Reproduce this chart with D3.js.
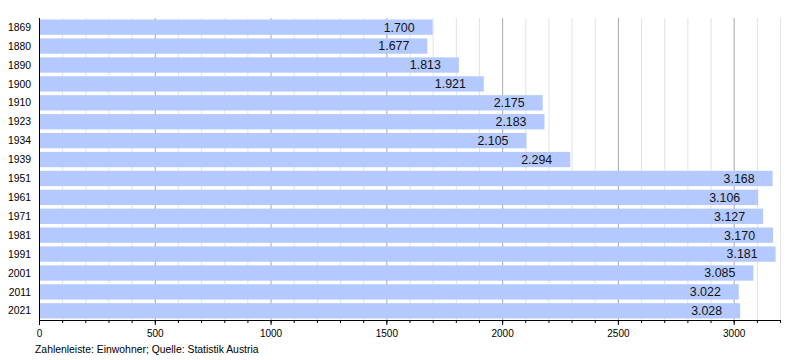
<!DOCTYPE html>
<html><head><meta charset="utf-8">
<script src="https://cdn.jsdelivr.net/npm/d3@7"></script>
<style>body{margin:0;background:#fff}svg{display:block}text{font-family:"Liberation Sans",Arial,sans-serif}</style>
</head><body><svg id="c" width="800" height="360"></svg>
<script>
const years = ["1869","1880","1890","1900","1910","1923","1934","1939","1951","1961","1971","1981","1991","2001","2011","2021"];
const population = [1700,1677,1813,1921,2175,2183,2105,2294,3168,3106,3127,3170,3181,3085,3022,3028];
const majorTicks = [0,500,1000,1500,2000,2500,3000];
const footer = "Zahlenleiste: Einwohner; Quelle: Statistik Austria";

(function(){
const svg = d3.select("#c");
const mL = 39, mR = 780, mT = 18, mB = 320;
const x = d3.scaleLinear().domain([0,3200]).range([mL,mR]);
const y = d3.scaleBand().domain(years).range([mT, mB]).paddingInner(0.19).paddingOuter(0.08);

const minor = d3.range(0,3201,100);
svg.append("g").selectAll("line").data(minor.filter(v=>v%500!==0 && v>0)).join("line")
  .attr("x1",d=>x(d)+0.5).attr("x2",d=>x(d)+0.5).attr("y1",mT).attr("y2",mB)
  .attr("stroke","#e2e2e2").attr("stroke-width",1);
svg.append("g").selectAll("line").data(majorTicks.filter(v=>v>0)).join("line")
  .attr("x1",d=>x(d)+0.5).attr("x2",d=>x(d)+0.5).attr("y1",mT).attr("y2",mB)
  .attr("stroke","#a8a8a8").attr("stroke-width",1);

svg.append("g").selectAll("rect").data(population).join("rect")
  .attr("x",x(0)+1).attr("y",(d,i)=>y(years[i]))
  .attr("width",d=>x(d)-x(0)-1).attr("height",y.bandwidth())
  .attr("fill","#b3c9ff");

svg.append("g").selectAll("text").data(population).join("text")
  .attr("x",d=>x(d)-18).attr("y",(d,i)=>y(years[i])+y.bandwidth()/2)
  .attr("dy","0.35em").attr("text-anchor","end")
  .attr("font-size",12.4).attr("fill","#111")
  .text(d=>d3.format(",")(d).replace(",","."));

svg.append("g").selectAll("text").data(years).join("text")
  .attr("x",31).attr("y",d=>y(d)+y.bandwidth()/2).attr("dy","0.35em")
  .attr("text-anchor","end").attr("font-size",10.4).attr("fill","#000").text(d=>d);

const xa = svg.append("g").attr("transform",`translate(0,${mB})`);
xa.call(d3.axisBottom(x).tickValues(minor).tickSize(3).tickFormat(""));
xa.append("g").call(d3.axisBottom(x).tickValues(majorTicks).tickSize(5).tickPadding(5).tickFormat(d=>d))
  .call(g=>g.select(".domain").remove());
xa.selectAll("text").attr("font-size",10).attr("fill","#000").attr("font-family","Liberation Sans, Arial, sans-serif");
xa.selectAll("line").attr("stroke","#000");
xa.select(".domain").attr("stroke","#000").attr("d",`M${mL},0.5H${mR}`);
svg.append("line").attr("x1",mL+0.5).attr("x2",mL+0.5).attr("y1",mT).attr("y2",mB+5).attr("stroke","#000");

svg.append("text").attr("x",35).attr("y",353).attr("font-size",10.4).attr("fill","#000").text(footer);
})();
</script></body></html>
